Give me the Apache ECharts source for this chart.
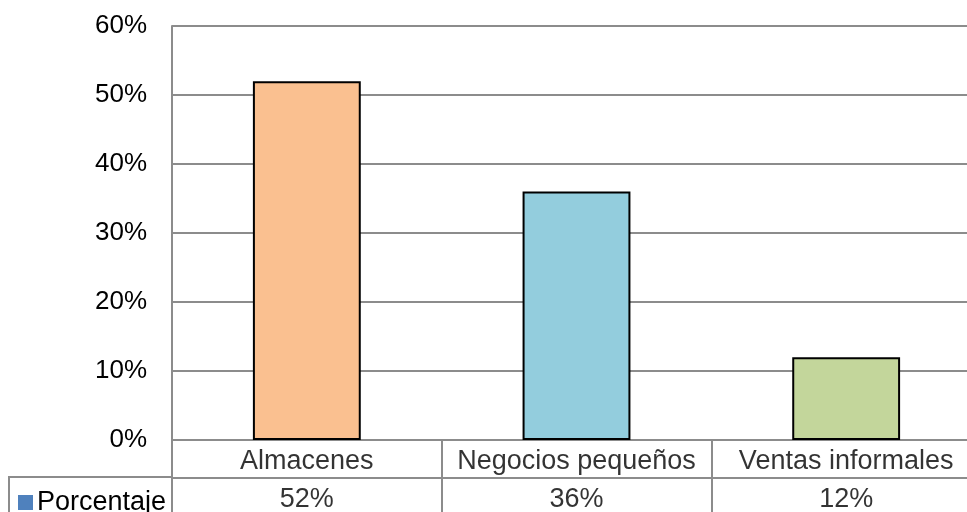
<!DOCTYPE html>
<html>
<head>
<meta charset="utf-8">
<script src="https://cdn.jsdelivr.net/npm/echarts@6/dist/echarts.min.js"></script>
<style>
  html, body { margin: 0; padding: 0; background: #fff; }
  #chart { width: 967px; height: 512px; }
</style>
</head>
<body>
<div id="chart"></div>
<script>
const categories = ["Almacenes", "Negocios pequeños", "Ventas informales"];
const porcentaje = [52, 36, 12];
const barColors = ["#FAC090", "#93CDDD", "#C3D69B"];
const seriesName = "Porcentaje";
const tableRows = ["valores", "nombres"];

const font = "Liberation Sans, Arial, sans-serif";
const gridGray = "#8c8c8c";

const myChart = echarts.init(document.getElementById("chart"));

// celdas de la tabla de datos bajo el eje
const tableData = [];
categories.forEach((c, i) => {
  tableData.push({ value: [c, "nombres"], label: { formatter: c } });
  tableData.push({ value: [c, "valores"], label: { formatter: porcentaje[i] + "%" } });
});

const option = {
  animation: false,
  textStyle: { fontFamily: font },
  legend: {
    data: [seriesName],
    left: 13,
    top: 484,
    icon: "rect",
    itemWidth: 15,
    itemHeight: 15,
    itemGap: 5,
    itemStyle: { borderWidth: 0 },
    textStyle: { fontSize: 27, color: "#000", fontFamily: font, padding: [3, 0, 0, -1] },
  },
  grid: [
    { left: 172, width: 809, top: 26, height: 414, outerBoundsMode: "none" },
    { left: 172, width: 809, top: 440, height: 76, outerBoundsMode: "none" },
  ],
  xAxis: [
    {
      type: "category",
      gridIndex: 0,
      data: categories,
      axisLine: { lineStyle: { color: gridGray, width: 2 } },
      axisTick: { show: false },
      axisLabel: { show: false },
    },
    {
      type: "category",
      gridIndex: 1,
      data: categories,
      axisLine: { show: false },
      axisTick: { show: false },
      axisLabel: { show: false },
      splitLine: { show: true, lineStyle: { color: gridGray, width: 2 } },
    },
  ],
  yAxis: [
    {
      type: "value",
      gridIndex: 0,
      min: 0,
      max: 60,
      interval: 10,
      axisLine: { show: true, lineStyle: { color: gridGray, width: 2 } },
      axisTick: { show: false },
      axisLabel: { formatter: "{value}%", fontSize: 26, color: "#000", margin: 25, fontFamily: font },
      splitLine: { lineStyle: { color: gridGray, width: 2 } },
    },
    {
      type: "category",
      gridIndex: 1,
      data: tableRows,
      axisLine: { show: false },
      axisTick: { show: false },
      axisLabel: { show: false },
      splitLine: { show: true, lineStyle: { color: gridGray, width: 2 } },
    },
  ],
  graphic: [
    {
      type: "polyline",
      shape: { points: [[9, 516], [9, 477], [172, 477]] },
      style: { stroke: gridGray, lineWidth: 2, fill: null },
    },
  ],
  series: [
    {
      name: seriesName,
      type: "bar",
      xAxisIndex: 0,
      yAxisIndex: 0,
      barWidth: "40%",
      itemStyle: { color: "#4F81BD", borderColor: "#000", borderWidth: 2 },
      data: porcentaje.map((v, i) => ({ value: v, itemStyle: { color: barColors[i] } })),
    },
    {
      name: "tabla",
      type: "scatter",
      xAxisIndex: 1,
      yAxisIndex: 1,
      symbolSize: 0,
      silent: true,
      label: { show: true, position: "inside", offset: [0, 3], fontSize: 27, color: "#000", fontFamily: font },
      data: tableData,
    },
  ],
};

myChart.setOption(option);
</script>
</body>
</html>
